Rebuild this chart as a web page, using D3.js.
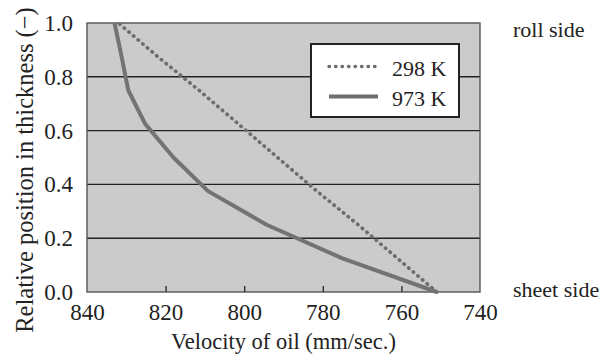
<!DOCTYPE html>
<html>
<head>
<meta charset="utf-8">
<script src="https://cdn.jsdelivr.net/npm/d3@7"></script>
</head>
<body style="margin:0">
<svg id="chart" width="611" height="358"></svg>
<script>
// data
const positions=[0,0.125,0.25,0.375,0.5,0.625,0.75,0.875,1.0];
const vel298=[751,761,771,781.5,791.5,801.5,811.5,822,832];
const vel973=[751,775,794.3,809.2,818,825.2,829.5,831.2,833];
const xTicks=[840,820,800,780,760,740];
const yTicks=[0,0.2,0.4,0.6,0.8,1.0];
const seriesNames=['298 K','973 K'];

const FONT='Liberation Serif';

let w=611,h=358;
let svg=d3.select('#chart');

let m={left:87,right:131,top:23,bottom:66};
let pw=w-m.left-m.right, ph=h-m.top-m.bottom;

let x=d3.scaleLinear().domain([840,740]).range([m.left,m.left+pw]);
let y=d3.scaleLinear().domain([0,1]).range([m.top+ph,m.top]);

// plot background
svg.append('rect')
  .attr('x',m.left).attr('y',m.top).attr('width',pw).attr('height',ph)
  .attr('fill','#cbcbcb');

// gridlines
svg.append('g').selectAll('line')
  .data(yTicks.filter(d=>d>0&&d<1))
  .join('line')
  .attr('x1',m.left).attr('x2',m.left+pw)
  .attr('y1',d=>y(d)).attr('y2',d=>y(d))
  .attr('stroke','#222').attr('stroke-width',1.4);

// border
svg.append('rect')
  .attr('x',m.left).attr('y',m.top).attr('width',pw).attr('height',ph)
  .attr('fill','none').attr('stroke','#555').attr('stroke-width',1.4);

// x axis
let xAxis=d3.axisBottom(x).tickValues(xTicks).tickSize(-6).tickFormat(d3.format('d'));
let gx=svg.append('g').attr('transform',`translate(0,${m.top+ph})`).call(xAxis)
  .attr('font-family',FONT).attr('font-size',23);
gx.select('.domain').remove();
gx.selectAll('.tick line').attr('stroke','#333').attr('stroke-width',1.4)
  .filter(d=>d==840||d==740).remove();
gx.selectAll('text').attr('font-family',FONT).attr('fill','#222')
  .attr('y',28).attr('dy',0);

// y axis
let yAxis=d3.axisLeft(y).tickValues(yTicks).tickSize(0).tickFormat(d3.format('.1f'));
let gy=svg.append('g').attr('transform',`translate(${m.left},0)`).call(yAxis)
  .attr('font-family',FONT).attr('font-size',23);
gy.select('.domain').remove();
gy.selectAll('text').attr('font-family',FONT).attr('fill','#222')
  .attr('x',-14).attr('dy',7.5);

// lines
let line=d3.line().x(d=>x(d[0])).y(d=>y(d[1]));

svg.append('path')
  .datum(vel298.map((v,i)=>[v,positions[i]]))
  .attr('d',line)
  .attr('fill','none').attr('stroke','#6e6e6e').attr('stroke-width',3.6)
  .attr('stroke-linecap','round').attr('stroke-dasharray','0.5,5.6');

svg.append('path')
  .datum(vel973.map((v,i)=>[v,positions[i]]))
  .attr('d',line)
  .attr('fill','none').attr('stroke','#737373').attr('stroke-width',4)
  .attr('stroke-linejoin','round');

// legend
let lg=svg.append('g');
lg.append('rect').attr('x',311).attr('y',44).attr('width',148).attr('height',73)
  .attr('fill','#fff').attr('stroke','#222').attr('stroke-width',2);
let rows=lg.selectAll('g.row').data(seriesNames).join('g').attr('class','row')
  .attr('transform',(d,i)=>`translate(0,${66.5+i*30})`);
rows.append('line').attr('x1',329).attr('x2',378).attr('y1',0).attr('y2',0)
  .attr('stroke','#6e6e6e')
  .attr('stroke-width',(d,i)=>i==0?3.4:4)
  .attr('stroke-linecap',(d,i)=>i==0?'round':'butt')
  .attr('stroke-dasharray',(d,i)=>i==0?'0.5,6':null);
rows.append('text').attr('x',392).attr('y',9.5)
  .attr('font-family',FONT).attr('font-size',22).attr('fill','#222').text(d=>d);

// side labels
svg.append('text').attr('x',513).attr('y',37)
  .attr('font-family',FONT).attr('font-size',22).attr('fill','#222').text('roll side');
svg.append('text').attr('x',513).attr('y',297)
  .attr('font-family',FONT).attr('font-size',22).attr('fill','#222').text('sheet side');

// axis titles
svg.append('text').attr('x',283.5).attr('y',349).attr('text-anchor','middle')
  .attr('font-family',FONT).attr('font-size',22.5).attr('fill','#222')
  .text('Velocity of oil (mm/sec.)');
svg.append('text').attr('transform',`translate(33,170) rotate(-90)`)
  .attr('text-anchor','middle').attr('font-family',FONT).attr('font-size',24.5).attr('fill','#222')
  .text('Relative position in thickness (\u2212)');
</script>
</body>
</html>
